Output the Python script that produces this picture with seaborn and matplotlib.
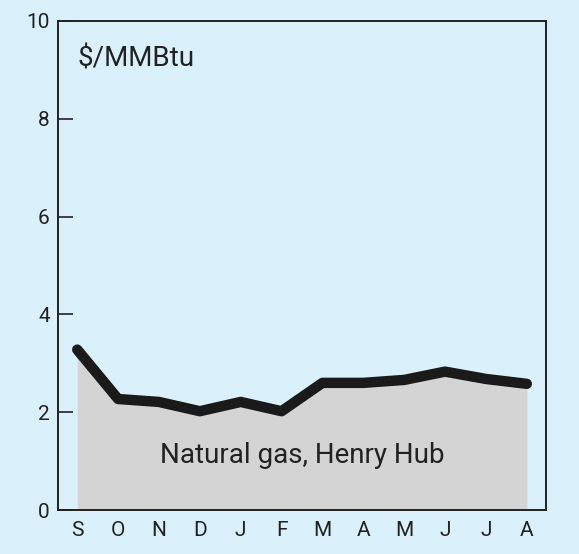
import matplotlib
matplotlib.use("Agg")
import matplotlib.pyplot as plt
import seaborn as sns
import pandas as pd

months = ["S", "O", "N", "D", "J", "F", "M", "A", "M", "J", "J", "A"]
price = [3.28, 2.27, 2.21, 2.02, 2.21, 2.02, 2.60, 2.60, 2.66, 2.83, 2.68, 2.58]
unit_label = "$/MMBtu"
series_label = "Natural gas, Henry Hub"

bg = "#daf0fa"
ink = "#222222"
sns.set_style("ticks")
plt.rcParams["font.family"] = ["Roboto", "DejaVu Sans"]

df = pd.DataFrame({"pos": range(len(months)), "price": price})

fig = plt.figure(figsize=(5.79, 5.54), dpi=100, facecolor=bg)
ax = fig.add_axes([0.1002, 0.0794, 0.8428, 0.8827])
ax.set_facecolor(bg)

ax.fill_between(df["pos"], 0, df["price"], color="#d4d4d4", lw=0, zorder=1)
sns.lineplot(data=df, x="pos", y="price", ax=ax, color="#1a1a1a", lw=7.5,
             solid_capstyle="round", solid_joinstyle="round", zorder=3)

ax.set_xlim(-0.47, 11.47)
ax.set_ylim(0, 10)
ax.set_yticks(range(0, 11, 2))
ax.set_xticks(df["pos"])
ax.set_xticklabels(months)
ax.set_xticks([p + 0.5 for p in df["pos"][:-1]], minor=True)
ax.tick_params(axis="x", which="major", length=0, pad=8, labelsize=15, colors=ink)
ax.tick_params(axis="x", which="minor", direction="in", length=12, width=1.2, color=ink)
ax.tick_params(axis="y", direction="in", length=11, width=1.2, pad=6, labelsize=15,
               colors=ink)
ax.set_xlabel("")
ax.set_ylabel("")
for s in ax.spines.values():
    s.set_linewidth(1.4)
    s.set_color(ink)

ax.text(0.04, 0.95, unit_label, transform=ax.transAxes, fontsize=20,
        color=ink, va="top", ha="left")
ax.text(5.5, 1.12, series_label, fontsize=20, color=ink, ha="center", va="center",
        zorder=4)

fig.savefig("out.png", dpi=100, facecolor=bg)
